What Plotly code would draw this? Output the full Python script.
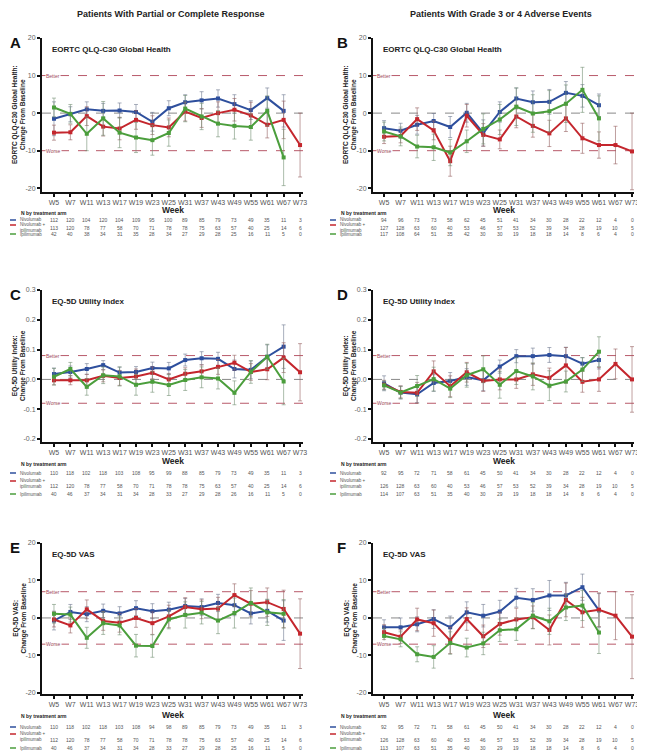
import plotly.graph_objects as go

# The page body has an 8px margin, so the figure is drawn 8px smaller and all
# pixel positions are shifted by that offset.
PAGE_W, PAGE_H, OFF = 645, 755, 8
W, H = PAGE_W - OFF, PAGE_H - OFF
FONT = "Liberation Sans, Arial, sans-serif"

weeks = ["W5", "W7", "W11", "W13", "W17", "W19", "W23", "W25", "W31", "W37",
         "W43", "W49", "W55", "W61", "W67", "W73"]
arm_names = ["Nivolumab", "Nivolumab +<br>ipilimumab", "Ipilimumab"]
arm_colors = ["#2e4f9d", "#c4262d", "#4b9e3c"]
err_colors = ["rgba(110,120,145,0.75)", "rgba(150,95,95,0.75)", "rgba(115,145,115,0.75)"]

column_titles = ["Patients With Partial or Complete Response",
                 "Patients With Grade 3 or 4 Adverse Events"]
panel_letters = ["A", "B", "C", "D", "E", "F"]
panel_titles = ["EORTC QLQ-C30 Global Health", "EORTC QLQ-C30 Global Health",
                "EQ-5D Utility Index", "EQ-5D Utility Index",
                "EQ-5D VAS", "EQ-5D VAS"]
y_titles = ["EORTC QLQ-C30 Global Health:<br>Change From Baseline",
            "EORTC QLQ-C30 Global Health:<br>Change From Baseline",
            "EQ-5D Utility Index:<br>Change From Baseline",
            "EQ-5D Utility Index:<br>Change From Baseline",
            "EQ-5D VAS:<br>Change From Baseline",
            "EQ-5D VAS:<br>Change From Baseline"]

# ---------- Panel A: QLQ-C30, PR/CR ----------
a_nivo = [-1.5, -0.3, 1.0, 0.6, 0.7, 0.3, -2.3, 1.3, 2.9, 3.4, 3.9, 2.4, 0.8, 4.0, 0.6]
a_combo = [-5.2, -5.1, -0.8, -3.6, -4.1, -1.8, -3.2, -3.8, 0.4, -1.3, 0.0, 0.9, -0.6, -3.1, -1.8, -8.5]
a_ipi = [1.5, -0.2, -5.5, -1.4, -5.2, -6.5, -7.2, -5.3, 1.2, -0.9, -2.8, -3.4, -3.7, 0.6, -11.8]
a_nivo_err = [4.5, 2.0, 2.0, 2.0, 2.0, 2.0, 2.5, 2.0, 2.0, 2.3, 2.3, 2.5, 2.5, 2.7, 4.3]
a_combo_err = [2.0, 2.0, 2.5, 2.5, 3.0, 2.5, 2.5, 2.5, 2.5, 2.5, 3.0, 3.0, 3.5, 3.5, 5.0, 8.5]
a_ipi_err = [2.5, 2.5, 4.5, 4.5, 4.0, 4.0, 4.0, 3.5, 3.5, 3.5, 3.5, 3.5, 3.5, 4.0, 7.5]
a_n_nivo = [112, 120, 104, 120, 104, 109, 95, 100, 89, 85, 79, 73, 49, 35, 11, 3]
a_n_combo = [113, 120, 78, 77, 58, 70, 71, 78, 78, 75, 63, 57, 40, 25, 14, 6]
a_n_ipi = [42, 40, 38, 34, 31, 35, 28, 34, 27, 29, 28, 25, 16, 11, 5, 0]

# ---------- Panel B: QLQ-C30, grade 3/4 AEs ----------
b_nivo = [-4.0, -4.7, -3.1, -2.1, -3.7, 0.1, -5.3, 0.3, 3.9, 2.9, 3.0, 5.4, 4.6, 2.1]
b_combo = [-6.3, -6.1, -1.6, -4.6, -12.8, -0.7, -5.8, -7.0, -0.9, -3.4, -5.4, -1.4, -6.7, -8.5, -8.5, -10.2]
b_ipi = [-4.9, -6.2, -8.9, -9.1, -10.5, -7.5, -4.2, -1.7, 1.7, -0.1, 0.5, 2.5, 6.2, -1.4]
b_nivo_err = [2.0, 2.0, 2.5, 2.0, 2.8, 2.5, 3.5, 2.7, 2.8, 3.0, 3.3, 3.0, 3.0, 3.0]
b_combo_err = [1.8, 1.8, 3.0, 2.5, 4.0, 3.0, 3.0, 2.5, 3.0, 3.0, 3.5, 3.5, 4.0, 3.5, 5.0, 10.2]
b_ipi_err = [2.5, 2.5, 3.0, 3.5, 3.5, 3.0, 4.0, 4.0, 5.0, 5.0, 5.5, 5.0, 6.0, 6.0]
b_n_nivo = [94, 96, 73, 73, 58, 62, 45, 51, 41, 34, 30, 28, 22, 12, 4, 0]
b_n_combo = [127, 128, 63, 60, 40, 53, 46, 57, 53, 52, 39, 34, 28, 19, 10, 5]
b_n_ipi = [117, 108, 64, 51, 35, 42, 30, 30, 19, 18, 18, 14, 8, 6, 4, 0]

# ---------- Panel C: EQ-5D utility, PR/CR ----------
c_nivo = [0.018, 0.025, 0.035, 0.048, 0.023, 0.025, 0.038, 0.037, 0.065, 0.071, 0.069, 0.035, 0.032, 0.076, 0.110]
c_combo = [-0.003, -0.003, -0.003, 0.012, 0.005, 0.010, 0.022, 0.000, 0.019, 0.027, 0.042, 0.056, 0.025, 0.034, 0.073, 0.024]
c_ipi = [0.009, 0.035, -0.025, 0.014, 0.010, -0.018, -0.008, -0.019, -0.002, 0.007, 0.003, -0.045, 0.025, 0.076, -0.007]
c_nivo_err = [0.02, 0.02, 0.018, 0.015, 0.018, 0.018, 0.02, 0.02, 0.02, 0.022, 0.022, 0.03, 0.03, 0.04, 0.073]
c_combo_err = [0.015, 0.015, 0.02, 0.02, 0.025, 0.025, 0.02, 0.02, 0.02, 0.022, 0.025, 0.025, 0.028, 0.035, 0.05, 0.096]
c_ipi_err = [0.028, 0.022, 0.028, 0.028, 0.032, 0.035, 0.035, 0.035, 0.035, 0.035, 0.035, 0.04, 0.038, 0.042, 0.078]
c_n_nivo = [110, 118, 102, 118, 103, 108, 95, 99, 88, 85, 79, 73, 49, 35, 11, 3]
c_n_combo = [112, 120, 78, 77, 58, 70, 71, 78, 78, 75, 63, 57, 40, 25, 14, 6]
c_n_ipi = [40, 46, 37, 34, 31, 34, 28, 33, 27, 29, 28, 26, 16, 11, 5, 0]

# ---------- Panel D: EQ-5D utility, grade 3/4 AEs ----------
d_nivo = [-0.013, -0.044, -0.050, -0.012, -0.005, 0.008, -0.003, 0.043, 0.078, 0.078, 0.082, 0.078, 0.053, 0.065]
d_combo = [-0.018, -0.042, -0.045, 0.027, -0.023, 0.024, -0.005, 0.000, 0.000, 0.017, 0.005, 0.047, -0.008, 0.000, 0.052, 0.000]
d_ipi = [-0.020, -0.044, -0.022, 0.001, -0.031, 0.014, 0.034, -0.018, 0.028, 0.010, -0.021, -0.007, 0.033, 0.093]
d_nivo_err = [0.025, 0.022, 0.028, 0.028, 0.028, 0.028, 0.035, 0.022, 0.022, 0.027, 0.025, 0.03, 0.02, 0.03]
d_combo_err = [0.015, 0.02, 0.035, 0.035, 0.035, 0.033, 0.035, 0.035, 0.03, 0.037, 0.033, 0.06, 0.035, 0.04, 0.05, 0.11]
d_ipi_err = [0.015, 0.02, 0.035, 0.04, 0.03, 0.04, 0.045, 0.045, 0.045, 0.045, 0.05, 0.035, 0.04, 0.05]
d_n_nivo = [92, 95, 72, 71, 58, 61, 45, 50, 41, 34, 30, 28, 22, 12, 4, 0]
d_n_combo = [126, 128, 63, 60, 40, 53, 46, 57, 53, 52, 39, 34, 28, 19, 10, 5]
d_n_ipi = [114, 107, 63, 51, 35, 40, 30, 29, 19, 18, 18, 14, 8, 6, 4, 0]

# ---------- Panel E: EQ-5D VAS, PR/CR ----------
e_nivo = [-0.7, 1.6, 1.0, 1.9, 1.2, 2.6, 1.8, 2.2, 3.2, 2.9, 4.0, 3.4, 1.2, 1.9, -0.7]
e_combo = [-0.4, -2.0, 2.3, -0.8, -1.3, 0.0, -1.4, 0.4, 2.9, 2.3, 2.5, 6.1, 3.8, 4.2, 2.4, -4.2]
e_ipi = [1.1, 0.9, -5.3, -1.4, -2.0, -7.4, -7.5, -0.4, 0.8, 1.4, -0.7, 1.3, 4.0, 1.5, 1.1]
e_nivo_err = [2.5, 2.0, 2.0, 1.8, 1.8, 2.0, 2.0, 2.0, 2.0, 2.2, 2.3, 2.8, 2.8, 3.0, 5.3]
e_combo_err = [2.0, 2.0, 2.5, 2.5, 2.5, 2.5, 3.0, 3.0, 2.5, 2.5, 3.0, 3.0, 3.5, 3.8, 5.0, 9.3]
e_ipi_err = [2.5, 2.0, 2.8, 3.0, 2.5, 3.0, 3.0, 2.5, 3.5, 3.0, 3.5, 4.0, 4.0, 3.5, 3.8]
e_n_nivo = [110, 118, 102, 118, 103, 108, 94, 98, 89, 85, 79, 73, 49, 35, 11, 3]
e_n_combo = [112, 120, 78, 77, 58, 70, 71, 78, 78, 75, 63, 57, 40, 25, 14, 6]
e_n_ipi = [40, 46, 37, 34, 31, 34, 28, 33, 27, 29, 28, 25, 16, 11, 5, 0]

# ---------- Panel F: EQ-5D VAS, grade 3/4 AEs ----------
f_nivo = [-2.5, -2.5, -1.7, -0.3, -2.5, 1.5, 0.6, 1.7, 5.4, 4.8, 6.0, 6.0, 8.2, 2.0]
f_combo = [-3.8, -5.0, -0.4, -1.4, -6.0, -0.3, -4.9, -1.6, -0.4, 0.2, -3.2, 4.8, 1.5, 2.2, 0.6, -5.0]
f_ipi = [-4.8, -5.7, -9.7, -10.4, -6.7, -7.9, -6.8, -3.3, -3.0, 0.6, -0.9, 2.8, 3.3, -3.9]
f_nivo_err = [2.0, 2.5, 2.0, 2.5, 3.0, 2.8, 3.0, 3.0, 2.5, 3.0, 4.0, 3.5, 3.5, 4.5]
f_combo_err = [2.0, 1.8, 3.0, 3.5, 3.5, 3.0, 3.0, 3.0, 3.0, 3.0, 4.0, 4.5, 4.0, 4.5, 6.4, 11.2]
f_ipi_err = [2.0, 2.0, 2.0, 3.0, 3.0, 2.5, 3.0, 3.0, 3.0, 3.5, 3.5, 3.5, 4.0, 5.6]
f_n_nivo = [92, 95, 72, 71, 58, 61, 45, 50, 41, 34, 30, 28, 22, 12, 4, 0]
f_n_combo = [126, 128, 63, 60, 40, 53, 46, 57, 53, 52, 39, 34, 28, 19, 10, 5]
f_n_ipi = [113, 107, 63, 51, 35, 40, 30, 29, 19, 18, 18, 14, 8, 6, 4, 0]

# Reference thresholds (better / worse) per panel
thresholds = [10, 10, 0.08, 0.08, 7, 7]

series = [
    ([a_nivo, a_combo, a_ipi], [a_nivo_err, a_combo_err, a_ipi_err], [a_n_nivo, a_n_combo, a_n_ipi]),
    ([b_nivo, b_combo, b_ipi], [b_nivo_err, b_combo_err, b_ipi_err], [b_n_nivo, b_n_combo, b_n_ipi]),
    ([c_nivo, c_combo, c_ipi], [c_nivo_err, c_combo_err, c_ipi_err], [c_n_nivo, c_n_combo, c_n_ipi]),
    ([d_nivo, d_combo, d_ipi], [d_nivo_err, d_combo_err, d_ipi_err], [d_n_nivo, d_n_combo, d_n_ipi]),
    ([e_nivo, e_combo, e_ipi], [e_nivo_err, e_combo_err, e_ipi_err], [e_n_nivo, e_n_combo, e_n_ipi]),
    ([f_nivo, f_combo, f_ipi], [f_nivo_err, f_combo_err, f_ipi_err], [f_n_nivo, f_n_combo, f_n_ipi]),
]

# ---------- layout geometry (page pixels) ----------
col_x = [(42, 303), (373, 634)]
col_xrange = [(-0.73, 15.18), (-0.67, 15.12)]
row_y = [(38, 192), (290, 442), (543, 694)]
row_yrange = [(-21.0, 20.0), (-0.21, 0.30), (-20.3, 20.0)]
row_ticks = [([-20, -10, 0, 10, 20], ["-20", "-10", "0", "10", "20"]),
             ([-0.2, -0.1, 0, 0.1, 0.2, 0.3], ["-0.2", "-0.1", "0.0", "0.1", "0.2", "0.3"]),
             ([-20, -10, 0, 10, 20], ["-20", "-10", "0", "10", "20"])]
# (N-by label, nivo row, combo label line 1, combo numbers, ipi row, Week label)
table_rows = [(213, 220, 225, 228, 234, 209.5), (464, 473, 481, 486, 494, 460.5),
              (716, 727, 734, 740, 748, 714.5)]


def px(x):
    return (x - OFF) / W


def py(y):
    return 1 - (y - OFF) / H


fig = go.Figure()
layout = dict(
    width=W, height=H, margin=dict(l=0, r=0, t=0, b=0, autoexpand=False),
    paper_bgcolor="white", plot_bgcolor="white", showlegend=False,
    font=dict(family=FONT, size=8, color="#555"),
)
annotations = []
shapes = []


def note(text, x, y, size, color="#222", xanchor="center", yanchor="middle", **kw):
    d = dict(text=text, x=x, y=y, xref=kw.pop("xref", "paper"), yref=kw.pop("yref", "paper"),
             xanchor=xanchor, yanchor=yanchor, showarrow=False,
             font=dict(size=size, color=color, family=FONT))
    d.update(kw)
    annotations.append(d)


for c, title in enumerate(column_titles):
    note("<b>" + title + "</b>", px(170 if c == 0 else 501), py(OFF), 9,
         yanchor="top", borderpad=0)

for i in range(6):
    r, c = divmod(i, 2)
    k = i + 1
    sfx = "" if k == 1 else str(k)
    xa, ya = "x" + sfx, "y" + sfx
    x0, x1 = col_x[c]
    y0, y1 = row_y[r]
    layout["xaxis" + sfx] = dict(
        domain=[px(x0), px(x1)], anchor=ya, type="category",
        categoryorder="array", categoryarray=weeks, range=list(col_xrange[c]),
        showline=True, linecolor="#111", linewidth=2, ticks="outside", ticklen=3,
        tickwidth=1.5, tickcolor="#111", showgrid=False, zeroline=False, tickangle=0,
        tickfont=dict(size=7, color="#555", family=FONT), fixedrange=True,
    )
    tv, tt = row_ticks[r]
    layout["yaxis" + sfx] = dict(
        domain=[py(y1), py(y0)], anchor=xa, range=list(row_yrange[r]),
        showline=True, linecolor="#111", linewidth=2, ticks="outside", ticklen=3,
        tickwidth=1.5, tickcolor="#111", showgrid=False, zeroline=False,
        tickvals=tv, ticktext=tt, tickfont=dict(size=7, color="#666", family=FONT),
        fixedrange=True,
    )
    vals, errs, ns = series[i]
    for a in range(3):
        n = len(vals[a])
        fig.add_trace(go.Scatter(
            x=weeks[:n], y=vals[a], mode="lines+markers", xaxis=xa, yaxis=ya,
            line=dict(color=arm_colors[a], width=2),
            marker=dict(color=arm_colors[a], size=4, symbol="square"),
            error_y=dict(type="data", array=errs[a], visible=True,
                         color=err_colors[a], thickness=0.8, width=2),
            showlegend=False, name=arm_names[a].replace("<br>", " "),
        ))
    thr = thresholds[i]
    for yv, dcol in ((thr, "#b85a6a"), (-thr, "#b85a6a"), (0, "#888")):
        shapes.append(dict(type="line", xref=xa + " domain", yref=ya, x0=0, x1=1,
                           y0=yv, y1=yv, line=dict(color=dcol, width=1, dash="dash"),
                           layer="below"))
    for yv, lab in ((thr, "Better"), (-thr, "Worse")):
        note(lab, 0.012, yv, 5, color="#a04a5a", xanchor="left",
             xref=xa + " domain", yref=ya, bgcolor="white", borderpad=0)
    note("<b>" + panel_letters[i] + "</b>", px(OFF + 1 if c == 0 else x0 - 37),
         py(y0 + 4), 15, color="#111", xanchor="left", borderpad=0)
    note("<b>" + panel_titles[i] + "</b>", px(x0 + 8), py(y0 + 11), 8, xanchor="left")
    note("<b>" + y_titles[i] + "</b>", px(x0 - 23), py((y0 + y1) / 2), 6.5, textangle=-90)
    tr = table_rows[r]
    note("<b>Week</b>", px((x0 + x1) / 2), py(tr[5]), 8.5)
    lx = x0 - 25 if c == 0 else x0 - 36
    note("<b>N by treatment arm</b>", px(lx + 2), py(tr[0]), 5, xanchor="left")
    row_label_y = [tr[1], tr[2] + 2, tr[4]]
    row_num_y = [tr[1], tr[3], tr[4]]
    line_y = [tr[1], tr[2], tr[4]]
    for a in range(3):
        shapes.append(dict(type="line", xref="paper", yref="paper",
                           x0=px(lx - 7), x1=px(lx - 1), y0=py(line_y[a]), y1=py(line_y[a]),
                           line=dict(color=arm_colors[a], width=1.5)))
        note(arm_names[a], px(lx + 1), py(row_label_y[a]), 4.5, color="#555",
             xanchor="left", align="left")
        for wk, nv in zip(weeks, ns[a]):
            note(str(nv), wk, py(row_num_y[a]), 5, color="#555", xref=xa)

layout["annotations"] = annotations
layout["shapes"] = shapes
fig.update_layout(**layout)
fig.write_html("out.html")
